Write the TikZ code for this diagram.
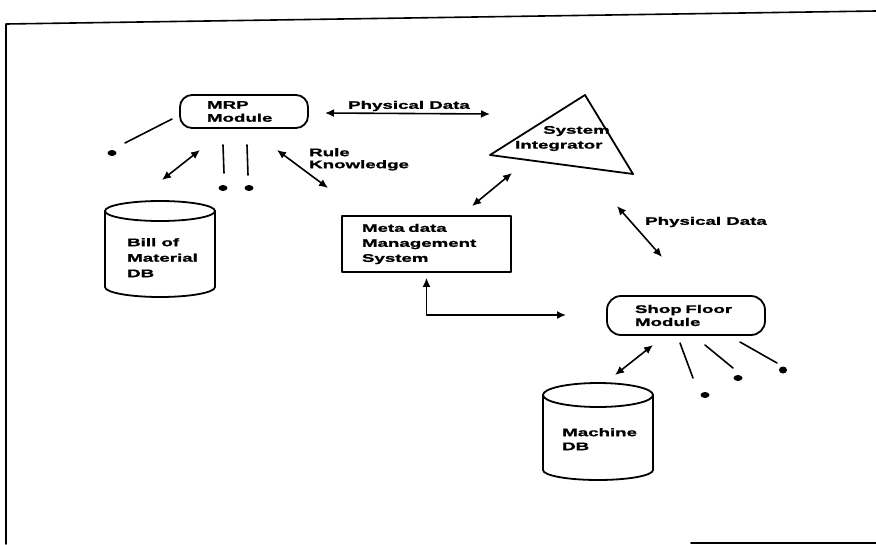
\documentclass[tikz,border=0pt]{standalone}
\usepackage{fontspec}
\setmainfont{Liberation Sans}[FakeStretch=1.7, BoldFeatures={FakeBold=1.4}]
\usetikzlibrary{arrows.meta,shapes.geometric}
\tikzset{
  txt/.style={font=\bfseries\fontsize{11}{13}\selectfont},
  lbl/.style={txt, inner sep=0pt, align=left},
  boxnode/.style={draw, line width=1.8pt, txt, align=left, inner ysep=0pt},
  conn/.style={line width=1.6pt, {Latex[length=9pt,width=8pt]}-{Latex[length=9pt,width=8pt]}},
  stroke/.style={line width=1.6pt},
  dotnode/.style={ellipse, fill=black, draw=none, inner sep=0pt, minimum width=9pt, minimum height=6pt},
  frame/.style={line width=1.6pt},
  outline/.style={line width=1.8pt}
}
\begin{document}
\begin{tikzpicture}[x=1pt, y=-1pt, line join=round, line cap=round]
\useasboundingbox (0,0) rectangle (876,544);
\fill[white] (0,0) rectangle (876,544);

% frame
\draw[frame] (876,11) -- (6,24) -- (6,544);
\draw[frame] (691,543) -- (876,543);

% MRP module
\node[boxnode, rounded corners=12pt, minimum height=33pt, text width=74pt, inner xsep=27pt] (mrp) at (244,111.5) {MRP\\Module};

% Meta data management system
\node[boxnode, font=\bfseries\fontsize{11}{15}\selectfont, minimum height=56pt, text width=129pt, inner xsep=20pt] (meta) at (426.5,244) {Meta data\\Management\\System};

% Shop floor module
\node[boxnode, rounded corners=14pt, minimum height=39pt, text width=102pt, inner xsep=28pt] (shop) at (686,315.5) {Shop~Floor\\Module};

% System integrator triangle
\coordinate (ta) at (585,95);
\coordinate (tb) at (490,155);
\coordinate (tc) at (633,174);
\draw[outline] (ta) -- (tb) -- (tc) -- cycle;
\node[lbl, anchor=west] (sys) at (543,131) {System};
\node[lbl, anchor=west] (integ) at (515,146) {Integrator};

% Bill of Material DB cylinder
\draw[outline] (105,211) -- (105,287) arc[start angle=180, end angle=360, x radius=55pt, y radius=10pt] -- (215,211);
\draw[outline] (160,211) ellipse[x radius=55pt, y radius=10pt];
\node[lbl, font=\bfseries\fontsize{11}{15.5}\selectfont, anchor=north west] (bom) at (127,238) {Bill of\\Material\\DB};

% Machine DB cylinder
\draw[outline] (543,395) -- (543,470) arc[start angle=180, end angle=360, x radius=55pt, y radius=10pt] -- (653,395);
\draw[outline] (598,395) ellipse[x radius=55pt, y radius=12pt];
\node[lbl, font=\bfseries\fontsize{11}{14}\selectfont, anchor=north west] (mdb) at (562,428) {Machine\\DB};

% Physical Data (top)
\coordinate (pd1a) at (325,113);
\coordinate (pd1b) at (490,114);
\draw[conn] (pd1a) -- (pd1b);
\node[lbl] (pd1) at (409,106) {Physical Data};

% MRP side stubs
\coordinate (s1a) at (172,119);
\coordinate (s1b) at (125,143);
\draw[stroke] (s1a) -- (s1b);
\node[dotnode] (d1) at (112,153) {};

\coordinate (v1a) at (223,145);
\coordinate (v1b) at (224,173);
\draw[stroke] (v1a) -- (v1b);
\node[dotnode] (d2) at (223,188) {};
\coordinate (v2a) at (247,145);
\coordinate (v2b) at (248,175);
\draw[stroke] (v2a) -- (v2b);
\node[dotnode] (d3) at (249,188) {};

% MRP <-> BoM
\coordinate (mb1) at (200,150);
\coordinate (mb2) at (162,180);
\draw[conn] (mb1) -- (mb2);

% Rule Knowledge
\coordinate (rk1) at (277,150);
\coordinate (rk2) at (328,188);
\draw[conn] (rk1) -- (rk2);
\node[lbl, font=\bfseries\fontsize{11}{12}\selectfont, anchor=north west] (rk) at (309,148) {Rule\\Knowledge};

% Meta <-> Integrator
\coordinate (mi1) at (472,206);
\coordinate (mi2) at (512,173);
\draw[conn] (mi1) -- (mi2);

% Physical Data (lower)
\coordinate (pd2a) at (617,206);
\coordinate (pd2b) at (662,257);
\draw[conn] (pd2a) -- (pd2b);
\node[lbl, anchor=west] (pd2) at (645,222) {Physical Data};

% Meta <-> Shop floor
\coordinate (ms) at (566,315);
\draw[conn] ([yshift=-5pt]meta.south) |- (ms);

% Shop <-> Machine DB
\coordinate (sm1) at (653,345);
\coordinate (sm2) at (615,375);
\draw[conn] (sm1) -- (sm2);

% Shop floor stubs
\coordinate (f1a) at (680,343);
\coordinate (f1b) at (693,378);
\draw[stroke] (f1a) -- (f1b);
\node[dotnode] (d4) at (705,395) {};
\coordinate (f2a) at (705,345);
\coordinate (f2b) at (733,368);
\draw[stroke] (f2a) -- (f2b);
\node[dotnode] (d5) at (738,378) {};
\coordinate (f3a) at (740,342);
\coordinate (f3b) at (777,363);
\draw[stroke] (f3a) -- (f3b);
\node[dotnode, minimum width=8pt, minimum height=7pt] (d6) at (783,370) {};
\end{tikzpicture}
\end{document}
